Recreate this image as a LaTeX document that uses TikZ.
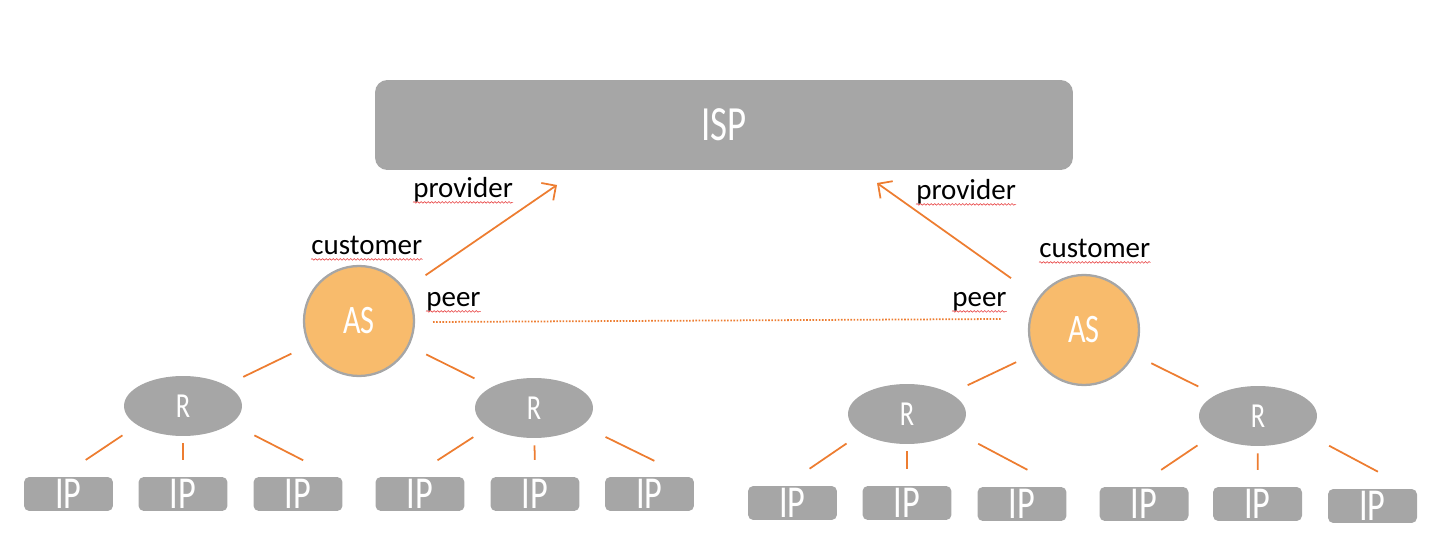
\documentclass[tikz,border=0pt]{standalone}
\usepackage{fontspec}
\setmainfont{Carlito}
\newfontfamily\narrowfont[FakeStretch=0.75]{Carlito}
\usetikzlibrary{arrows.meta,shapes.geometric,decorations.pathmorphing}
\definecolor{boxgray}{RGB}{166,166,166}
\definecolor{asorange}{RGB}{248,187,108}
\definecolor{linkorange}{RGB}{237,125,49}
\definecolor{spellred}{RGB}{232,70,70}
\begin{document}
\begin{tikzpicture}[x=0.02cm,y=-0.02cm,
  isp/.style={fill=boxgray,rounded corners=7pt,minimum width=13.96cm,minimum height=1.8cm,inner sep=0pt,text=white,font=\narrowfont\fontsize{28}{32}\selectfont},
  as/.style={circle,fill=asorange,draw=boxgray,line width=1.3pt,minimum size=2.2cm,inner sep=0pt,text=white,font=\narrowfont\fontsize{23}{26}\selectfont},
  router/.style={ellipse,fill=boxgray,minimum width=2.36cm,minimum height=1.2cm,inner sep=0pt,text=white,font=\narrowfont\fontsize{20}{24}\selectfont},
  ip/.style={fill=boxgray,rounded corners=3pt,minimum width=1.78cm,minimum height=0.68cm,inner sep=0pt,text=white,font=\narrowfont\fontsize{26}{30}\selectfont},
  lbl/.style={anchor=base west,inner sep=0pt,font=\fontsize{16.5}{20}\selectfont},
  spell/.style={draw=spellred,line width=0.35pt,decorate,decoration={snake,amplitude=0.45pt,segment length=2pt}},
  link/.style={draw=linkorange,line width=1pt},
  uplink/.style={link,-{Straight Barb[length=6pt,width=12pt]}},
  peerlink/.style={link,dash pattern=on 0.9pt off 0.9pt},
  aswire/.style={link,shorten <=10.8pt,shorten >=10.8pt},
  ipleft/.style={link,shorten <=10.2pt,shorten >=17.1pt},
  ipright/.style={link,shorten <=14.7pt,shorten >=20.5pt},
  ipstem/.style={link,shorten <=4pt,shorten >=9.6pt}]
\useasboundingbox (0,0) rectangle (1455,550);
\node[isp] (isp) at (724,125) {ISP};
\node[as] (asl) at (359,321) {AS};
\node[as] (asr) at (1084,330) {AS};
\node[router] (r1) at (183,406) {R};
\node[router] (r2) at (534,408) {R};
\node[router] (r3) at (907,414) {R};
\node[router] (r4) at (1258,416) {R};
\node[ip] (ip1) at (68.5,494) {IP};
\node[ip] (ip2) at (183,494) {IP};
\node[ip] (ip3) at (298,494) {IP};
\node[ip] (ip4) at (420,494) {IP};
\node[ip] (ip5) at (535,494) {IP};
\node[ip] (ip6) at (649.5,494) {IP};
\node[ip] (ip7) at (792.5,503) {IP};
\node[ip] (ip8) at (907,503) {IP};
\node[ip] (ip9) at (1022,504) {IP};
\node[ip] (ip10) at (1144,504) {IP};
\node[ip] (ip11) at (1257.5,504) {IP};
\node[ip] (ip12) at (1372.5,506) {IP};
\node[lbl] (pl) at (413,198) {provider};
\node[lbl] (pr) at (916,200) {provider};
\node[lbl] (cl) at (311,255) {customer};
\node[lbl] (cr) at (1039,258) {customer};
\node[lbl] (el) at (426,307) {peer};
\node[lbl] (er) at (952,307) {peer};
\draw[spell] ([yshift=-2.5pt]pl.base west) -- ([yshift=-2.5pt]pl.base east);
\draw[spell] ([yshift=-2.5pt]pr.base west) -- ([yshift=-2.5pt]pr.base east);
\draw[spell] ([yshift=-2.5pt]cl.base west) -- ([yshift=-2.5pt]cl.base east);
\draw[spell] ([yshift=-2.5pt]cr.base west) -- ([yshift=-2.5pt]cr.base east);
\draw[spell] ([yshift=-2.5pt]el.base west) -- ([yshift=-2.5pt]el.base east);
\draw[spell] ([yshift=-2.5pt]er.base west) -- ([yshift=-2.5pt]er.base east);
\coordinate (tl) at (557,185);
\coordinate (tr) at (877,183);
\coordinate (el1) at (433,322);
\coordinate (er1) at (1002,319);
\draw[uplink,shorten <=14pt] (asl) -- (tl);
\draw[uplink,shorten <=19pt] (asr) -- (tr);
\draw[peerlink] (el1) -- (er1);
\draw[aswire] (asl) -- (r1);
\draw[aswire] (asl) -- (r2);
\draw[aswire] (asr) -- (r3);
\draw[aswire] (asr) -- (r4);
\draw[ipleft] (r1.203) -- (ip1.114);
\draw[ipstem] (r1) -- (ip2.north);
\draw[ipright] (r1.-20) -- (ip3.25);
\draw[ipleft] (r2.203) -- (ip4.114);
\draw[ipstem] (r2) -- (ip5.north);
\draw[ipright] (r2.-20) -- (ip6.25);
\draw[ipleft] (r3.203) -- (ip7.114);
\draw[ipstem] (r3) -- (ip8.north);
\draw[ipright] (r3.-20) -- (ip9.25);
\draw[ipleft] (r4.203) -- (ip10.114);
\draw[ipstem] (r4) -- (ip11.north);
\draw[ipright] (r4.-20) -- (ip12.25);
\end{tikzpicture}
\end{document}
